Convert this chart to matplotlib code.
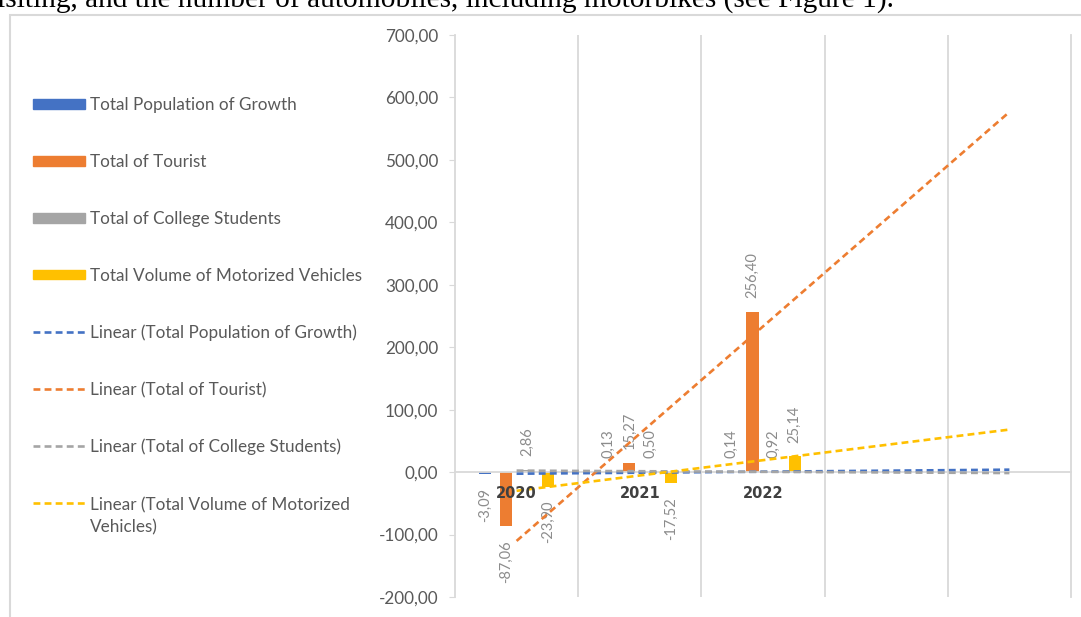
import numpy as np
import matplotlib
matplotlib.use("Agg")
import matplotlib.pyplot as plt
from matplotlib.patches import Rectangle
from matplotlib.lines import Line2D

# data
years = ["2020", "2021", "2022"]
growth = [-3.09, 0.13, 0.14]
tourist = [-87.06, 15.27, 256.40]
students = [2.86, 0.50, 0.92]
vehicles = [-23.90, -17.52, 25.14]

series_names = ["Total Population of Growth", "Total of Tourist",
                "Total of College Students", "Total Volume of Motorized Vehicles"]
trend_names = ["Linear (Total Population of Growth)", "Linear (Total of Tourist)",
               "Linear (Total of College Students)",
               "Linear (Total Volume of Motorized\nVehicles)"]
colors = ["#4472C4", "#ED7D31", "#A5A5A5", "#FFC000"]
yticks = list(range(-200, 701, 100))
n_cats = 5          # 3 years + 2 forecast periods
forward = 2

plt.rcParams['font.family'] = ['Lato', 'DejaVu Sans']
txt = "#595959"
grid = "#d9d9d9"
dash = (0, (2.6, 1.6))

W, H = 1081, 617
fig = plt.figure(figsize=(W / 100, H / 100), dpi=100)

# document text cut off at the top of the screenshot
fig.text(-3 / W, 1 - 7.5 / H, "isiting, and the number of automobiles, including motorbikes (see Figure 1).",
         family="Liberation Serif", fontsize=21.2, color="black", va="baseline", ha="left")

# chart frame
fig.patches.append(Rectangle((10 / W, -0.1), 1.2, 1 - 15 / H + 0.1, transform=fig.transFigure,
                             fill=False, edgecolor=grid, lw=1.5))

ax = fig.add_axes([455 / W, 1 - 597 / H, (1071 - 455) / W, (597 - 35) / H])

all_vals = [growth, tourist, students, vehicles]
x = np.arange(len(years))
step = 0.171
width = 0.098
for i, (vals, c) in enumerate(zip(all_vals, colors)):
    xs = x + (i - 1.5) * step
    ax.bar(xs, vals, width, color=c, zorder=1)
    for xi, v in zip(xs, vals):
        lab = f"{v:.2f}".replace(".", ",")
        off = 10 if v >= 0 else -10
        ax.annotate(lab, (xi, v), xytext=(0, off), textcoords="offset points",
                    rotation=90, ha="center", va="bottom" if v >= 0 else "top",
                    fontsize=10.5, color="#8c8c8c")

# linear trendlines, 2 periods forward
xt = np.arange(len(years) + forward)
for vals, c in zip(all_vals, colors):
    k, b = np.polyfit(x, vals, 1)
    ax.plot(xt, k * xt + b, color=c, lw=1.9, linestyle=dash, zorder=3)

# category labels sit just under the zero line
for xi, yr in zip(x, years):
    ax.annotate(yr, (xi, 0), xytext=(0, -10), textcoords="offset points", ha="center",
                va="top", family="DejaVu Sans", fontweight="bold", fontsize=10.5,
                color="#404040", zorder=4)

ax.set_xlim(-0.5, n_cats - 0.5)
ax.set_ylim(-200, 700)
ax.set_yticks(yticks)
ax.set_yticklabels([f"{v:.2f}".replace(".", ",") for v in yticks])
ax.set_xticks(np.arange(0.5, n_cats - 0.5, 1))
ax.tick_params(axis="x", length=0, labelbottom=False)
ax.grid(True, axis="x", color=grid, lw=1.3)
ax.tick_params(axis="y", length=4, color=grid, labelcolor=txt, labelsize=12.3, pad=8)
ax.spines["top"].set_visible(False)
ax.spines["bottom"].set_position(("data", 0))
for s in ["left", "right", "bottom"]:
    ax.spines[s].set_color(grid)
    ax.spines[s].set_linewidth(1.3)

# legend on the left, one entry every 57 px
for i, (name, c) in enumerate(zip(series_names + trend_names, colors + colors)):
    yc = 1 - (104 + 57 * i) / H
    if i < 4:
        fig.patches.append(Rectangle((33 / W, yc - 4.5 / H), 52 / W, 9 / H,
                                     transform=fig.transFigure, color=c))
    else:
        fig.lines.append(Line2D([33 / W, 85 / W], [yc, yc], transform=fig.transFigure,
                                color=c, lw=1.9, linestyle=dash))
    extra = 23 * name.count("\n")
    fig.text(90 / W, yc - (6 + extra) / H, name, fontsize=12.3, color=txt, va="baseline",
             ha="left", linespacing=1.45)

fig.savefig("out.png", dpi=100)
